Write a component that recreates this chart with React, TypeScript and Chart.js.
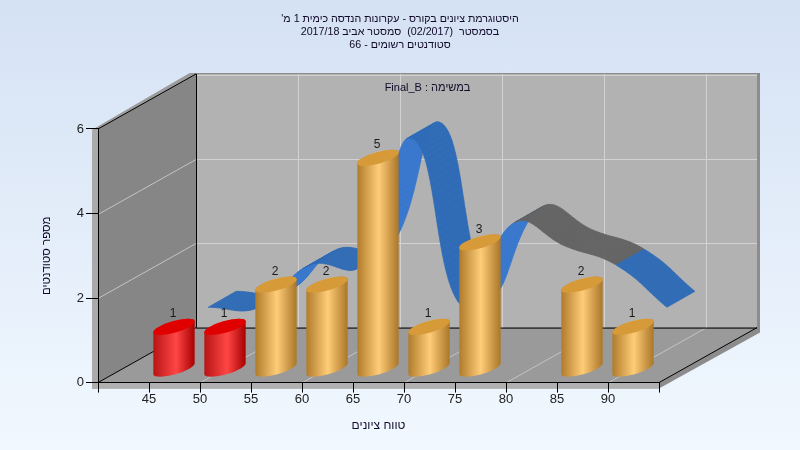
import React, { useEffect, useRef } from "react";
import { Chart, registerables } from "chart.js";

Chart.register(...registerables);

const bins = [45, 50, 55, 60, 65, 70, 75, 80, 85, 90];
const counts = [1, 1, 2, 2, 5, 1, 3, null, 2, 1];
const ribbonValues = [1, 1, 2, 2, 5, 1, 3, 2.45, 2, 1];
const failingBins = [45, 50];
const titleLines = [
  "היסטוגרמת ציונים בקורס - עקרונות הנדסה כימית 1 מ'",
  "בסמסטר  (02/2017)  סמסטר אביב 2017/18",
  "סטודנטים רשומים - 66",
];
const assignmentLabel = "במשימה : Final_B";
const xTitle = "טווח ציונים";
const yTitle = "מספר סטודנטים";

const FONT = "'Liberation Sans', Arial, sans-serif";
const INK = "#120a2a";
const WALL_DX = 98;
const WALL_DY = 55;
const BAR_DX = 25;
const BAR_DY = 13.4;
const RIB_DX = 59;
const RIB_DY = 33;
const RIB_W_DX = 28;
const RIB_W_DY = 16;

function poly(ctx: CanvasRenderingContext2D, pts: number[][], fill: string) {
  ctx.beginPath();
  pts.forEach((p, i) => (i ? ctx.lineTo(p[0], p[1]) : ctx.moveTo(p[0], p[1])));
  ctx.closePath();
  ctx.fillStyle = fill;
  ctx.fill();
}
function seg(ctx: CanvasRenderingContext2D, x1: number, y1: number, x2: number, y2: number, color: string) {
  ctx.beginPath();
  ctx.moveTo(x1, y1);
  ctx.lineTo(x2, y2);
  ctx.strokeStyle = color;
  ctx.lineWidth = 1;
  ctx.stroke();
}

const wallsPlugin = {
  id: "walls",
  beforeDraw(chart: any) {
    const ctx = chart.ctx as CanvasRenderingContext2D;
    const { left: l, right: r, top: t, bottom: b } = chart.chartArea;
    const dx = WALL_DX;
    const dy = WALL_DY;
    ctx.save();
    // outer thickness
    poly(ctx, [[l - 6, t + 1], [l + dx - 6, t - dy - 1], [r + dx + 3, t - dy - 1], [r + dx + 3, b - dy + 5], [r, b + 6], [l - 6, b + 6]], "#8c8c8c");
    poly(ctx, [[l - 6, t + 1], [l, t], [l, b + 6], [l - 6, b + 6]], "#aaaaaa");
    poly(ctx, [[l - 6, b], [r, b], [r, b + 6], [l - 6, b + 6]], "#b0b0b0");
    poly(ctx, [[l - 6, t + 1], [l + dx - 6, t - dy - 1], [l + dx, t - dy], [l, t]], "#9c9c9c");
    // walls
    poly(ctx, [[l + dx, t - dy], [r + dx, t - dy], [r + dx, b - dy], [l + dx, b - dy]], "#b2b2b2");
    poly(ctx, [[l, t], [l + dx, t - dy], [l + dx, b - dy], [l, b]], "#868686");
    poly(ctx, [[l, b], [l + dx, b - dy], [r + dx, b - dy], [r, b]], "#9a9a9a");
    // grids
    const sx = chart.scales.x;
    const sy = chart.scales.y;
    const grid = "#d2d2d2";
    for (let v = 50; v <= 90; v += 10) {
      const x = Math.round(sx.getPixelForValue(v)) + 0.5;
      seg(ctx, x + dx, t - dy, x + dx, b - dy, grid);
      seg(ctx, x, b, x + dx, b - dy, "#c4c4c4");
    }
    for (const v of [2, 4]) {
      const y = Math.round(sy.getPixelForValue(v)) + 0.5;
      seg(ctx, l + dx, y - dy, r + dx, y - dy, grid);
      seg(ctx, l, y, l + dx, y - dy, "#c4c4c4");
    }
    seg(ctx, l + dx, t - dy + 1.5, r + dx, t - dy + 1.5, grid);
    // frame lines
    const k = "#000000";
    seg(ctx, l, t, l + dx, t - dy, k);
    seg(ctx, l + dx + 0.5, t - dy, l + dx + 0.5, b - dy, k);
    seg(ctx, l, b, l + dx, b - dy, k);
    seg(ctx, l + dx, b - dy + 0.5, r + dx, b - dy + 0.5, k);
    seg(ctx, r, b, r + dx, b - dy, k);
    // label on the back wall
    ctx.font = `11px ${FONT}`;
    ctx.fillStyle = INK;
    ctx.textAlign = "center";
    ctx.textBaseline = "middle";
    ctx.fillText(assignmentLabel, 427.5, 88);
    ctx.restore();
  },
};

function bez(p0: any, p1: any, t: number) {
  const u = 1 - t;
  const f = (a: number, b: number, c: number, d: number) =>
    u * u * u * a + 3 * u * u * t * b + 3 * u * t * t * c + t * t * t * d;
  return [f(p0.x, p0.cp2x, p1.cp1x, p1.x), f(p0.y, p0.cp2y, p1.cp1y, p1.y)];
}

const ribbonPlugin = {
  id: "ribbon",
  afterDatasetsDraw(chart: any) {
    const ctx = chart.ctx as CanvasRenderingContext2D;
    ctx.save();
    // ribbon
    const lineMeta = chart.getDatasetMeta(1);
    lineMeta.dataset.updateControlPoints(chart.chartArea, "x");
    const pts = lineMeta.data;
    const steps = 30;
    for (let i = 0; i < pts.length - 1; i++) {
      const gap = counts[i] === null || counts[i + 1] === null;
      for (let s = 0; s < steps; s++) {
        const a = bez(pts[i], pts[i + 1], s / steps);
        const c = bez(pts[i], pts[i + 1], (s + 1) / steps);
        const ax = a[0] + RIB_DX;
        const ay = a[1] - RIB_DY;
        const cx = c[0] + RIB_DX;
        const cy = c[1] - RIB_DY;
        const dxx = cx - ax;
        const dyy = cy - ay;
        const under = dxx * -RIB_W_DY - dyy * RIB_W_DX > 0;
        const col = gap ? "#636363" : under ? "#3877cd" : "#2f6bb6";
        const q = [[ax, ay], [cx, cy], [cx + RIB_W_DX, cy - RIB_W_DY], [ax + RIB_W_DX, ay - RIB_W_DY]];
        poly(ctx, q, col);
        ctx.strokeStyle = col;
        ctx.lineWidth = 0.6;
        ctx.stroke();
      }
    }
    // cylinders
    const barMeta = chart.getDatasetMeta(0);
    const rot = -Math.atan2(6, 21);
    barMeta.data.forEach((el: any, i: number) => {
      const v = counts[i];
      if (v === null || el.skip) return;
      const cx = el.x + BAR_DX;
      const half = el.width / 2;
      const a = half / Math.cos(rot);
      const bMinor = 5.8;
      const top = el.y - BAR_DY;
      const bot = el.base - BAR_DY;
      const red = failingBins.includes(bins[i]);
      const g = ctx.createLinearGradient(cx - half, 0, cx + half, 0);
      if (red) {
        g.addColorStop(0, "#b81414");
        g.addColorStop(0.55, "#ff4646");
        g.addColorStop(1, "#a80000");
      } else {
        g.addColorStop(0, "#b07c2c");
        g.addColorStop(0.52, "#ffcc78");
        g.addColorStop(1, "#aa7628");
      }
      ctx.beginPath();
      ctx.ellipse(cx, bot, a, bMinor, rot, 0, Math.PI, false);
      ctx.ellipse(cx, top, a, bMinor, rot, Math.PI, Math.PI * 2, false);
      ctx.closePath();
      ctx.fillStyle = g;
      ctx.fill();
      ctx.beginPath();
      ctx.ellipse(cx, top, a, bMinor, rot, 0, Math.PI * 2);
      ctx.fillStyle = red ? "#e00000" : "#d69a38";
      ctx.fill();
      ctx.font = `12px ${FONT}`;
      ctx.fillStyle = "#1a1a1a";
      ctx.textAlign = "center";
      ctx.textBaseline = "middle";
      ctx.fillText(String(v), cx - 1, top - 13);
    });
    ctx.restore();
  },
};

export default function App() {
  const ref = useRef<HTMLCanvasElement>(null);
  useEffect(() => {
    document.body.style.margin = "0";
    const chart = new Chart(ref.current as HTMLCanvasElement, {
      type: "bar",
      data: {
        datasets: [
          {
            type: "bar",
            data: bins.map((b, i) => ({ x: b, y: counts[i] })),
            backgroundColor: "transparent",
            borderWidth: 0,
            barPercentage: 1,
            categoryPercentage: 0.81,
          },
          {
            type: "line",
            data: bins.map((b, i) => ({ x: b, y: ribbonValues[i] })),
            borderColor: "transparent",
            borderWidth: 0,
            pointRadius: 0,
            tension: 0.45,
            capBezierPoints: false,
          },
        ],
      } as any,
      options: {
        animation: false,
        responsive: false,
        devicePixelRatio: 1,
        events: [],
        layout: { padding: 0 },
        plugins: {
          legend: { display: false },
          tooltip: { enabled: false },
          title: {
            display: true,
            text: titleLines,
            color: INK,
            font: { family: FONT, size: 10.7, weight: "normal", lineHeight: 1.23 },
            padding: { top: 12, bottom: 77.5 },
            fullSize: true,
          },
        },
        scales: {
          x: {
            type: "linear",
            min: 40,
            max: 95,
            offset: false,
            afterFit: (s: any) => {
              s.height = 67.4;
            },
            grid: { drawOnChartArea: false, drawTicks: true, tickLength: 10, color: "#000", offset: false },
            border: { color: "#000", width: 1 },
            ticks: {
              stepSize: 5,
              autoSkip: false,
              maxRotation: 0,
              color: "#222",
              font: { family: FONT, size: 13 },
              padding: -1,
              callback: (v: any) => (bins.includes(v) ? String(v) : ""),
            },
            title: {
              display: true,
              text: xTitle,
              color: INK,
              font: { family: FONT, size: 12 },
              padding: { top: 0, bottom: 17 },
            },
          },
          y: {
            min: 0,
            max: 6,
            afterFit: (s: any) => {
              s.width = 98;
            },
            grid: { drawOnChartArea: false, drawTicks: true, tickLength: 12, color: "#000" },
            border: { color: "#000", width: 1 },
            ticks: {
              stepSize: 2,
              color: "#222",
              font: { family: FONT, size: 13 },
              padding: 2,
            },
            title: {
              display: true,
              text: yTitle,
              color: INK,
              font: { family: FONT, size: 11.5 },
              padding: { top: 40, bottom: 0 },
            },
          },
          yRightMargin: {
            position: "right",
            display: true,
            min: 0,
            max: 6,
            afterFit: (s: any) => {
              s.width = 141;
            },
            grid: { display: false },
            border: { display: false },
            ticks: { display: false },
          },
        },
      } as any,
      plugins: [wallsPlugin, ribbonPlugin],
    });
    return () => chart.destroy();
  }, []);
  return (
    <div
      style={{
        position: "fixed",
        left: 0,
        top: 0,
        width: 800,
        height: 450,
        background: "linear-gradient(180deg, #d5e2f4 0%, #f1f8ff 100%)",
      }}
    >
      <canvas ref={ref} width={800} height={450} style={{ direction: "rtl", display: "block" }} />
    </div>
  );
}
